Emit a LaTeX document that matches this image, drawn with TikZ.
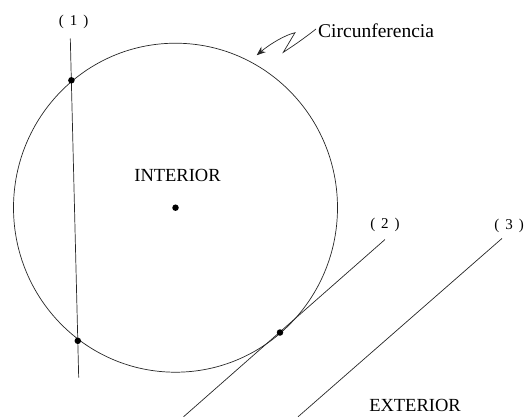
\documentclass[tikz,border=0pt]{standalone}
\usepackage{fontspec}
\setmainfont{Liberation Serif}
\usetikzlibrary{arrows.meta}

\newcommand{\numsp}{\hspace{0.4em}}

\begin{document}
\begin{tikzpicture}[x=1pt, y=-1pt,
        curve/.style={draw=black!85, line width=0.7pt},
        dotpt/.style={circle, fill=black, inner sep=0pt, minimum size=6.5pt},
        lbl/.style={inner sep=0pt, font=\fontsize{18.5}{20}\selectfont},
        numlbl/.style={inner sep=0pt, font=\fontsize{15}{17}\selectfont},
        arr/.style={-{Stealth[length=9pt,width=7pt]}, line width=0.7pt, black!85}
    ]
    \useasboundingbox (0,0) rectangle (525,416);

    \coordinate (o) at (175.5,207.7);
    \draw[curve] (o) circle [x radius=162pt, y radius=164.5pt];
    \node[dotpt] (centro) at (o) {};
    \node[lbl] (interior) at (177.5,175) {INTERIOR};
    \node[lbl] (exterior) at (415,405) {EXTERIOR};

    % secant (1)
    \coordinate (s1a) at (70.3,38.5);
    \coordinate (s1b) at (78.7,377.6);
    \draw[curve] (s1a) -- (s1b);
    \node[dotpt] (p1) at (71.4,80.3) {};
    \node[dotpt] (p2) at (77.8,340.8) {};
    \node[numlbl] (l1) at (73.7,21.5) {(\numsp1\numsp)};

    % tangent (2)
    \coordinate (t2a) at (385,239.5);
    \coordinate (t2b) at (183.5,416.8);
    \draw[curve] (t2a) -- (t2b);
    \node[dotpt] (p3) at (280,332.5) {};
    \node[numlbl] (l2) at (385,225) {(\numsp2\numsp)};

    % exterior line (3)
    \coordinate (e3a) at (502,238.4);
    \coordinate (e3b) at (298,416.8);
    \draw[curve] (e3a) -- (e3b);
    \node[numlbl, anchor=east] (l3) at (524,225.5) {(\numsp3\numsp)};

    % label of the circle
    \node[lbl, anchor=west, font=\fontsize{19.5}{21}\selectfont] (circ) at (318,31) {Circunferencia};
    \coordinate (tip) at (256.7,55.2);
    \draw[arr] ([xshift=-2pt,yshift=2pt]circ.west)
        .. controls (302,40) and (290,48) .. (283.3,52.3)
        -- (295,32.7)
        .. controls (285,35) and (270,44) .. (tip);
\end{tikzpicture}
\end{document}
